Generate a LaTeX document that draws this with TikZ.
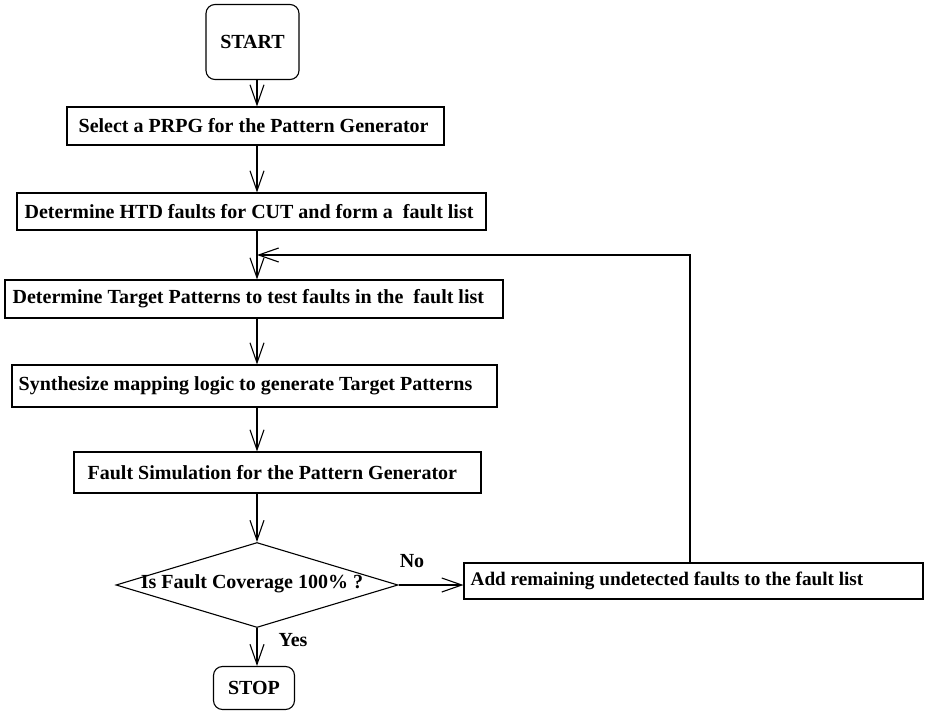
\documentclass[tikz,border=0pt]{standalone}
\usepackage{fontspec}
\setmainfont{Liberation Serif}
\usetikzlibrary{arrows.meta,shapes.geometric}
\begin{document}
\begin{tikzpicture}[x=1pt,y=-1pt,
  every node/.style={font=\fontsize{20}{24}\selectfont\bfseries},
  stepbox/.style={draw,line width=1.1pt,inner sep=0pt},
  steptext/.style={anchor=west,inner sep=0pt},
  termbox/.style={draw,line width=1.1pt,rounded corners=9pt,inner sep=0pt},
  arr/.style={line width=1.1pt,-{Straight Barb[length=20pt,width=14pt,line width=1.1pt]}}]
\useasboundingbox (0,0) rectangle (926,711);
\coordinate (spine) at (257,0);
\coordinate (fb) at (690,0);
\coordinate (join) at (257,255);

% process boxes, each with its text set flush left inside
\node[termbox,minimum width=93pt,minimum height=75pt] (start) at (252.5,42) {START};
\node[stepbox,minimum width=377pt,minimum height=38pt] (b1) at (255.5,126) {};
\node[steptext] (t1) at ([xshift=12pt]b1.west) {Select a PRPG for the Pattern Generator};
\node[stepbox,minimum width=469pt,minimum height=37pt] (b2) at (251.5,211.5) {};
\node[steptext] (t2) at ([xshift=8pt]b2.west) {Determine HTD faults for CUT and form a\ \ fault list};
\node[stepbox,minimum width=498pt,minimum height=38pt] (b3) at (254,299) {};
\node[steptext] (t3) at ([xshift=8pt]b3.west) {Determine Target Patterns to test faults in the\ \ fault list};
\node[stepbox,minimum width=485pt,minimum height=42pt] (b4) at (254.5,386) {};
\node[steptext] (t4) at ([xshift=7pt]b4.west) {Synthesize mapping logic to generate Target Patterns};
\node[stepbox,minimum width=407pt,minimum height=41pt] (b5) at (277.5,472.5) {};
\node[steptext] (t5) at ([xshift=14pt]b5.west) {Fault Simulation for the Pattern Generator};
\node[draw,line width=1.1pt,shape=diamond,minimum width=282pt,minimum height=85pt,inner sep=0pt] (dec) at (257,585) {};
\node (dectext) at (252,584) {Is Fault Coverage 100\% ?};
\node[stepbox,minimum width=459pt,minimum height=36pt] (b6) at (693.5,581) {};
\node[steptext,font=\fontsize{19.2}{23}\selectfont\bfseries] (t6) at ([xshift=7pt]b6.west) {Add remaining undetected faults to the fault list};
\node[termbox,minimum width=81pt,minimum height=43pt] (stop) at (254,688) {STOP};

\node (no) at (412,561) {No};
\node (yes) at (293,640) {Yes};

\draw[arr] (start.south -| spine) -- (b1.north -| spine);
\draw[arr] (b1.south -| spine) -- (b2.north -| spine);
\draw[arr] (b2.south -| spine) -- (b3.north -| spine);
\draw[arr] (b3.south -| spine) -- (b4.north -| spine);
\draw[arr] (b4.south -| spine) -- (b5.north -| spine);
\draw[arr] (b5.south -| spine) -- (dec.north);
\draw[arr] (dec.south) -- (stop.north -| dec.south);
\draw[arr] (dec.east) -- (b6.west |- dec.east);
\draw[arr] (b6.north -| fb) -- (fb |- join) -- (join);
\end{tikzpicture}
\end{document}
